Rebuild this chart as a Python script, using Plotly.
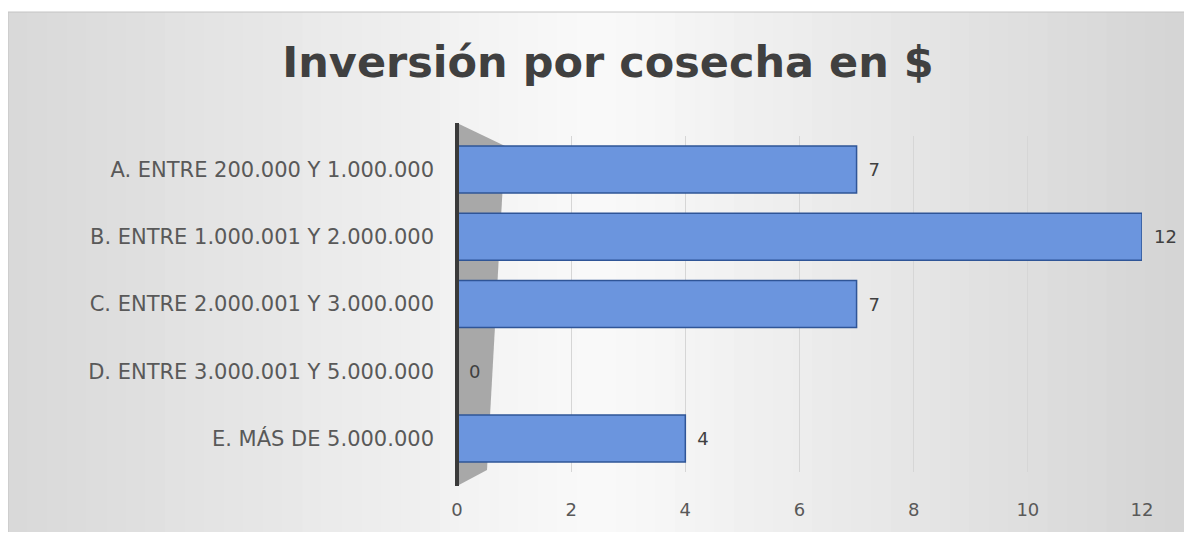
import plotly.graph_objects as go

categories = ["A. ENTRE 200.000 Y 1.000.000", "B. ENTRE 1.000.001 Y 2.000.000",
              "C. ENTRE 2.000.001 Y 3.000.000", "D. ENTRE 3.000.001 Y 5.000.000",
              "E. MÁS DE 5.000.000"]
values = [7, 12, 7, 0, 4]
x_ticks = [0, 2, 4, 6, 8, 10, 12]
title_text = "Inversión por cosecha en $"

OFF = 8  # browser body margin
W, H = 1192 - 2 * OFF, 540 - 2 * OFF
L, R, T, B = 457, 1142, 136, 472  # plot area in window pixels


def px(x):
    return (x - L) / (R - L)


def py(y):
    return (B - y) / (B - T)


shapes = []
fx0, fx1, fy0, fy1 = 8, 1185, 12, 535
n = 60
for i in range(n):
    a = fx0 + (fx1 - fx0) * i / n
    b = fx0 + (fx1 - fx0) * (i + 1) / n + 1
    t = (i + 0.5) / n
    if t < 0.5:
        g = 216 + (250 - 216) * (t / 0.5)
    else:
        g = 250 - (250 - 212) * ((t - 0.5) / 0.5)
    g = int(round(g))
    shapes.append(dict(type="rect", xref="paper", yref="paper", layer="below",
                       x0=px(a), x1=px(min(b, fx1)), y0=py(fy1), y1=py(fy0),
                       fillcolor=f"rgb({g},{g},{g})", line=dict(width=0)))
shapes.append(dict(type="rect", xref="paper", yref="paper", layer="below",
                   x0=px(fx0), x1=px(fx1), y0=py(fy1), y1=py(fy0),
                   fillcolor="rgba(0,0,0,0)", line=dict(color="#c4c4c4", width=1)))
wall = [(457, 123), (505, 146), (487, 470), (457, 486)]
path = "M " + " L ".join(f"{px(x):.4f},{py(y):.4f}" for x, y in wall) + " Z"
shapes.append(dict(type="path", xref="paper", yref="paper", layer="below", path=path,
                   fillcolor="#a8a8a8", line=dict(width=0)))
shapes.append(dict(type="line", xref="paper", yref="paper", layer="above",
                   x0=px(457), x1=px(457), y0=py(486), y1=py(123),
                   line=dict(color="#3a3a3a", width=4)))

FONT = "DejaVu Sans"

fig = go.Figure(go.Bar(
    y=categories, x=values, orientation="h",
    marker=dict(color="#6b95de", line=dict(color="#2f5597", width=1.5)),
    texttemplate="\u2002%{x}", textposition="outside",
    textfont=dict(family=FONT, size=18, color="#404040"),
    cliponaxis=False,
))

fig.update_layout(
    width=W, height=H,
    margin=dict(l=L - OFF, r=W - (R - OFF), t=T - OFF, b=H - (B - OFF)),
    paper_bgcolor="white", plot_bgcolor="rgba(0,0,0,0)",
    bargap=0.3,
    showlegend=False,
    shapes=shapes,
    title=dict(text=f"<b>{title_text}</b>", x=(608 - OFF) / W, xanchor="center",
               y=1 - (62 - OFF) / H, yanchor="middle", yref="container",
               font=dict(family=FONT, size=43, color="#404040")),
    xaxis=dict(range=[0, 12], tickvals=x_ticks, showgrid=True, gridcolor="#d6d6d6",
               gridwidth=1, zeroline=False, showline=False,
               tickfont=dict(family=FONT, size=18, color="#595959"),
               ticklabelstandoff=25),
    yaxis=dict(categoryorder="array", categoryarray=categories, autorange="reversed",
               showgrid=False, zeroline=False, showline=False,
               tickfont=dict(family=FONT, size=21, color="#595959"),
               ticklabelstandoff=22),
)

fig.write_html("out.html")
